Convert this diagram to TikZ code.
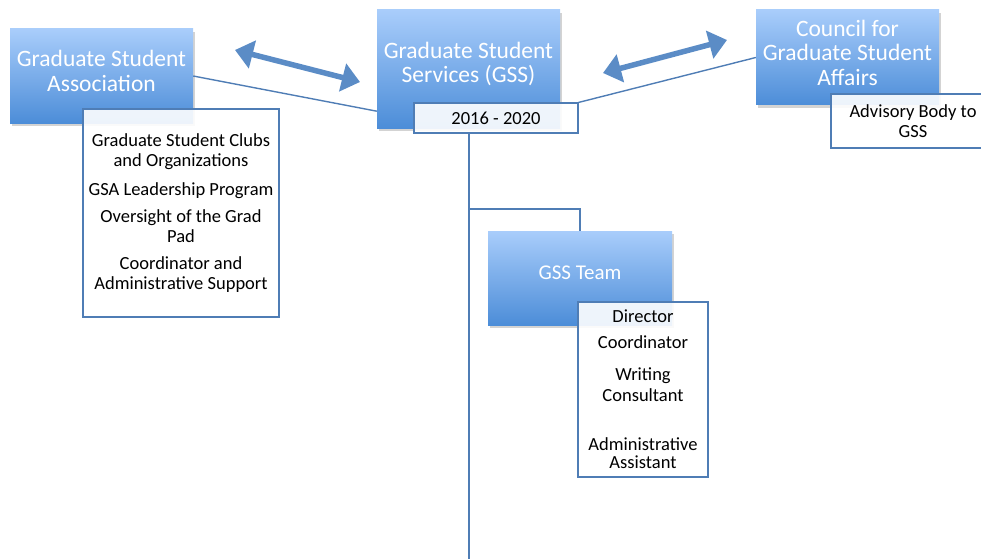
\documentclass[tikz,border=0pt]{standalone}
\usepackage{fontspec}
\setmainfont{Carlito}
\usetikzlibrary{arrows.meta,shadows}
\definecolor{boxtop}{HTML}{A9CDFB}
\definecolor{boxbottom}{HTML}{4C8DD8}
\definecolor{edgeblue}{HTML}{4F7DB5}
\definecolor{arrowblue}{HTML}{5B8CC6}
\tikzset{
  bluebox/.style={rectangle, top color=boxtop, bottom color=boxbottom, draw=none,
    drop shadow={shadow xshift=2pt, shadow yshift=-3pt, opacity=0.35}},
  boxtext/.style={text=white, align=center, font=\fontsize{23.5}{24.5}\selectfont},
  listbox/.style={rectangle, draw=edgeblue, line width=1.1pt, fill=white, fill opacity=0.9,
    text opacity=1, align=center, font=\fontsize{18.5}{20}\selectfont},
  link/.style={draw=edgeblue, line width=1.4pt},
  twoway/.style={arrowblue, line width=5.5pt,
    {Triangle[width=28pt,length=18pt]}-{Triangle[width=28pt,length=18pt]}}
}
% shaded box with its caption a little above centre
\newcommand{\bluebox}[5]{\node[bluebox, minimum width=#3, minimum height=#4] (#1) at #2 {};
        \node[boxtext] (#1-text) at ([yshift=5pt]#1.center) {#5};}

\begin{document}
\begin{tikzpicture}[x=1pt,y=-1pt]
        \useasboundingbox (0,0) rectangle (981,559);

        \bluebox{gsa}{(101.5,76)}{183pt}{94pt}{Graduate Student\\Association}
        \bluebox{gss}{(468.5,69)}{183pt}{118pt}{Graduate Student\\Services (GSS)}
        \bluebox{cgsa}{(847.5,57.5)}{183pt}{95pt}{Council for\\Graduate Student\\Affairs}
        \bluebox{team}{(580,278)}{184pt}{94pt}{\fontsize{21}{24}\selectfont GSS Team}

        \node[listbox, minimum width=196pt, minimum height=208pt] (gsalist) at (181,213)
                {Graduate Student Clubs\\and Organizations\\[9pt]GSA Leadership Program\\[7pt]Oversight of the Grad\\Pad\\[7pt]Coordinator and\\Administrative Support};
        \node[listbox, minimum width=164pt, minimum height=30pt] (dates) at (496,118) {2016 - 2020};
        \node[listbox, minimum width=164pt, minimum height=54pt] (advisory) at (913,121) {Advisory Body to\\GSS};
        \node[listbox, minimum width=130pt, minimum height=175pt] (teamlist) at (643,389.5)
                {Director\\[6pt]Coordinator\\[12pt]Writing\\[1pt]Consultant\\[29pt]Administrative\\[-2pt]Assistant};

        % links
        \draw[link] (gsa.east) -- ([yshift=17pt]gss.south west);
        \draw[link] (cgsa.west) -- (dates.north east);
        \coordinate (trunkfoot) at (469,559);
        \coordinate (split) at (469,209);
        \draw[link] (dates.south -| trunkfoot) -- (trunkfoot);
        \draw[link] (split) -| (team.north);

        % two-way arrows
        \coordinate (gsa-arrow) at (235,50);
        \coordinate (gss-arrow-l) at (360,82);
        \coordinate (gss-arrow-r) at (603,73);
        \coordinate (cgsa-arrow) at (727,40);
        \draw[twoway] (gsa-arrow) -- (gss-arrow-l);
        \draw[twoway] (gss-arrow-r) -- (cgsa-arrow);

\end{tikzpicture}
\end{document}
